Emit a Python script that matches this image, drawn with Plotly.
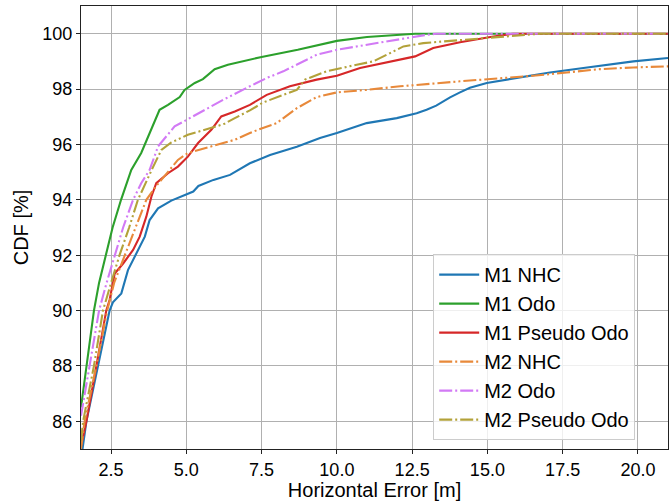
import plotly.graph_objects as go

# Horizontal error CDF curves, (x = error in m, y = CDF in %)
m1_nhc_x = [1.5, 1.55, 1.68, 2.06, 2.45, 2.56, 2.84, 3.06, 3.39, 3.62, 3.78, 4.06, 4.5, 5.05, 5.23, 5.4,
            5.9, 6.45, 7.11, 7.78, 8.67, 9.44, 10.0, 10.99, 11.99, 12.65, 12.98, 13.3, 13.76, 14.09,
            14.42, 14.98, 15.98, 17.08, 18.19, 19.85, 21.0]
m1_nhc_y = [85.0, 85.0, 86.0, 88.0, 90.0, 90.3, 90.62, 91.46, 92.19, 92.67, 93.27, 93.69, 93.97, 94.2, 94.3, 94.5,
            94.72, 94.9, 95.32, 95.62, 95.92, 96.23, 96.41, 96.77, 96.95, 97.13, 97.25, 97.4, 97.7, 97.88,
            98.05, 98.22, 98.4, 98.6, 98.76, 99.0, 99.12]

m1_odo_x = [1.5, 1.68, 1.93, 2.1, 2.33, 2.55, 2.83, 3.17, 3.5, 3.73, 4.11, 4.39, 4.78, 4.94, 5.28, 5.55,
            5.94, 6.38, 7.5, 8.7, 10.0, 11.0, 12.0, 12.6, 13.5, 21.0]
m1_odo_y = [86.5, 88.0, 90.0, 91.0, 92.0, 93.0, 94.0, 95.08, 95.69, 96.29, 97.25, 97.43, 97.71, 97.97, 98.22, 98.36,
            98.72, 98.88, 99.16, 99.42, 99.74, 99.88, 99.96, 100.0, 100.0, 100.0]

m1_pseudo_x = [1.5, 1.68, 2.01, 2.34, 2.45, 2.62, 2.9, 3.23, 3.45, 3.67, 3.84, 4.0, 4.39, 4.72, 5.05, 5.39,
               5.83, 6.16, 6.61, 7.11, 7.67, 8.44, 9.33, 10.0, 10.77, 11.77, 12.6, 13.2, 14.09, 15.1,
               15.85, 21.0]
m1_pseudo_y = [85.1, 86.0, 88.0, 90.0, 90.38, 91.34, 91.7, 92.19, 92.67, 93.39, 94.12, 94.6, 94.96, 95.2, 95.56, 96.05,
               96.53, 97.01, 97.19, 97.43, 97.79, 98.1, 98.34, 98.48, 98.76, 99.0, 99.18, 99.48, 99.69, 99.88,
               100.0, 100.0]

m2_nhc_x = [1.5, 1.62, 2.01, 2.37, 2.6, 2.95, 3.3, 3.67, 4.0, 4.45, 4.72, 5.05, 5.61, 6.16, 6.61, 7.11,
            7.38, 8.0, 8.67, 9.33, 10.0, 10.99, 12.1, 14.09, 16.52, 17.64, 18.74, 19.85, 21.0]
m2_nhc_y = [85.0, 86.0, 88.0, 90.0, 91.0, 92.0, 93.0, 94.0, 94.5, 95.08, 95.44, 95.69, 95.87, 96.02, 96.17, 96.41,
            96.53, 96.77, 97.31, 97.71, 97.88, 97.97, 98.1, 98.28, 98.48, 98.6, 98.72, 98.78, 98.82]

m2_odo_x = [1.5, 1.79, 2.1, 2.35, 2.62, 2.9, 3.23, 3.5, 3.78, 4.06, 4.61, 5.11, 6.22, 7.11, 7.67, 8.22,
            8.78, 9.33, 10.0, 10.99, 11.88, 12.98, 13.3, 21.0]
m2_odo_y = [86.2, 88.0, 90.0, 91.0, 92.0, 93.0, 94.0, 94.6, 95.08, 95.93, 96.65, 96.95, 97.61, 98.1, 98.4, 98.64,
            98.94, 99.24, 99.42, 99.6, 99.78, 99.96, 100.0, 100.0]

m2_pseudo_x = [1.5, 1.57, 1.93, 2.23, 2.5, 2.78, 3.1, 3.39, 3.9, 4.17, 4.5, 5.05, 6.05, 6.27, 6.61, 7.11,
               7.56, 8.22, 8.67, 8.94, 9.66, 10.66, 11.21, 11.77, 12.21, 12.87, 13.2, 14.31, 15.42,
               16.52, 16.75, 21.0]
m2_pseudo_y = [85.3, 86.0, 88.0, 90.0, 91.0, 92.0, 93.0, 94.0, 95.2, 95.8, 96.07, 96.35, 96.67, 96.75, 96.95, 97.23,
               97.52, 97.79, 97.97, 98.34, 98.64, 98.88, 99.0, 99.3, 99.54, 99.66, 99.69, 99.78, 99.88,
               99.99, 100.0, 100.0]

series_names = ["M1 NHC", "M1 Odo", "M1 Pseudo Odo", "M2 NHC", "M2 Odo", "M2 Pseudo Odo"]
series_x = [m1_nhc_x, m1_odo_x, m1_pseudo_x, m2_nhc_x, m2_odo_x, m2_pseudo_x]
series_y = [m1_nhc_y, m1_odo_y, m1_pseudo_y, m2_nhc_y, m2_odo_y, m2_pseudo_y]
series_colors = ["#1f77b4", "#2ca02c", "#d62728", "#e8893a", "#d27af5", "#b3a23a"]
dash_dot_dot = "13px,3px,2px,3px,13px,3px,2px,3px,2px,3px"
series_dash = ["solid", "solid", "solid", dash_dot_dot, dash_dot_dot, dash_dot_dot]

x_ticks = [2.5, 5.0, 7.5, 10.0, 12.5, 15.0, 17.5, 20.0]
y_ticks = [86, 88, 90, 92, 94, 96, 98, 100]

fig = go.Figure()
for name, xs, ys, color, dash in zip(series_names, series_x, series_y, series_colors, series_dash):
    fig.add_trace(go.Scatter(
        x=xs, y=ys, name=name, mode="lines",
        line=dict(color=color, width=2.1, dash=dash),
    ))

base_font = dict(family="Liberation Sans, Arial, sans-serif", size=18, color="black")

fig.update_layout(
    width=670, height=501,
    margin=dict(l=81, r=2, t=6, b=52),
    paper_bgcolor="white", plot_bgcolor="white",
    font=base_font,
    showlegend=True,
    legend=dict(
        x=0.6, y=0.44, xanchor="left", yanchor="top",
        bgcolor="rgba(255,255,255,0.8)", bordercolor="#cccccc", borderwidth=1,
        font=dict(family="Liberation Sans, Arial, sans-serif", size=20, color="black"),
        tracegroupgap=0, itemwidth=40, entrywidth=177, entrywidthmode="pixels",
    ),
    xaxis=dict(
        range=[1.5, 21], tickvals=x_ticks, ticktext=[f"{v:.1f}" for v in x_ticks],
        showgrid=True, gridcolor="#b0b0b0", gridwidth=1,
        showline=True, linecolor="#222222", linewidth=1, mirror=True,
        ticks="outside", ticklen=4, tickcolor="#222222",
        zeroline=False,
        title=dict(text="Horizontal Error [m]", font=dict(size=20), standoff=2),
    ),
    yaxis=dict(
        range=[85, 101], tickvals=y_ticks,
        showgrid=True, gridcolor="#b0b0b0", gridwidth=1,
        showline=True, linecolor="#222222", linewidth=1, mirror=True,
        ticks="outside", ticklen=4, tickcolor="#222222",
        zeroline=False,
        title=dict(text="CDF [%]", font=dict(size=20), standoff=8),
    ),
)

fig.write_html("out.html")
